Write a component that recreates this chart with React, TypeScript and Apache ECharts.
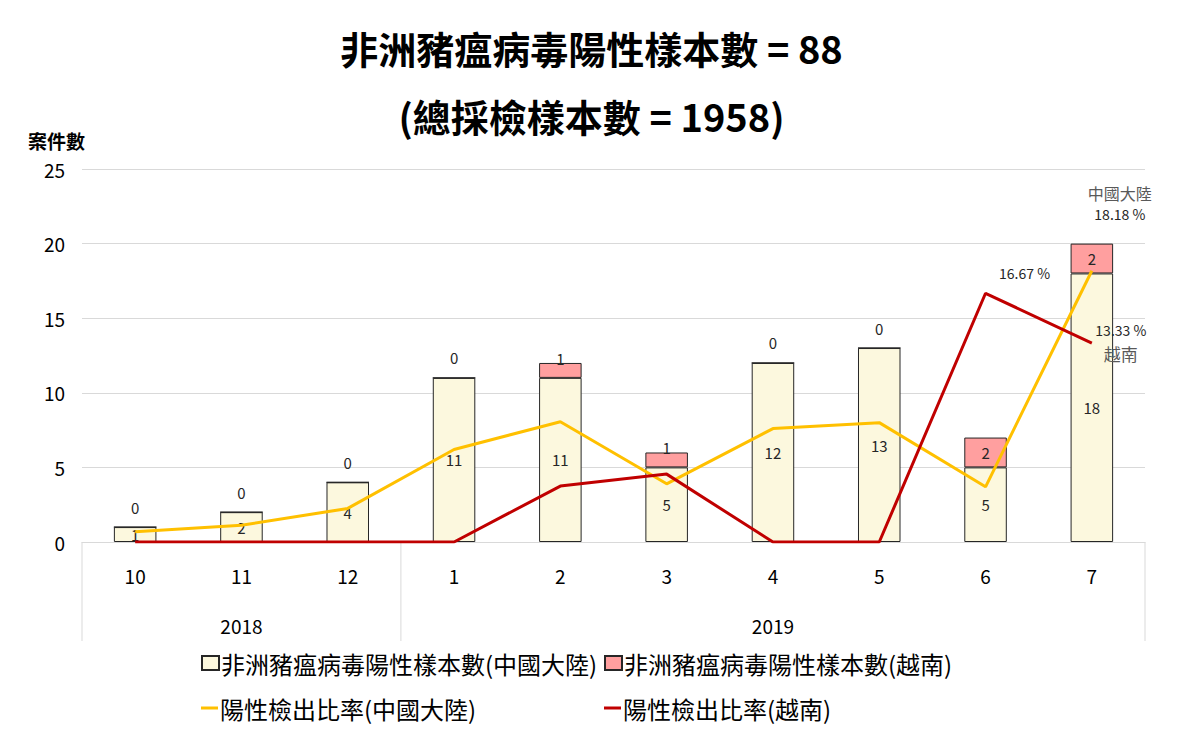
import React, { useEffect, useRef } from "react";
import * as echarts from "echarts";

const months = ["10", "11", "12", "1", "2", "3", "4", "5", "6", "7"];
const years = ["", "2018", "", "", "", "", "2019", "", "", ""];
const chinaCases = [1, 2, 4, 11, 11, 5, 12, 13, 5, 18];
const vietnamCases = [0, 0, 0, 0, 1, 1, 0, 0, 2, 2];
const chinaRatio = [0.68, 1.12, 2.25, 6.2, 8.06, 3.9, 7.6, 8.0, 3.7, 18.18];
const vietnamRatio = [0, 0, 0, 0, 3.75, 4.55, 0, 0, 16.67, 13.33];

const nameChinaBar = "非洲豬瘟病毒陽性樣本數(中國大陸)";
const nameVietnamBar = "非洲豬瘟病毒陽性樣本數(越南)";
const nameChinaLine = "陽性檢出比率(中國大陸)";
const nameVietnamLine = "陽性檢出比率(越南)";

const FONT = "'Noto Sans CJK TC', 'Noto Sans', sans-serif";

const App: React.FC = () => {
  const chartRef = useRef<HTMLDivElement>(null);

  useEffect(() => {
    document.body.style.margin = "0";
    if (!chartRef.current) return;
    const chart = echarts.init(chartRef.current, undefined, { renderer: "svg" });

    const last = months.length - 1;

    const legendBase = {
      orient: "horizontal",
      itemGap: 0,
      textStyle: { fontFamily: FONT, fontSize: 24, color: "#000", padding: [0, 0, 0, -3] },
    };

    const option: any = {
      animation: false,
      textStyle: { fontFamily: FONT },
      title: {
        text: "非洲豬瘟病毒陽性樣本數 = 88\n(總採檢樣本數 = 1958)",
        left: "center",
        top: 13,
        padding: 0,
        textStyle: {
          fontFamily: FONT,
          fontSize: 38,
          fontWeight: "bold",
          color: "#000",
          lineHeight: 68,
        },
      },
      legend: [
        {
          ...legendBase,
          left: 196,
          top: 646,
          itemWidth: 17,
          itemHeight: 14,
          data: [{ name: nameChinaBar, icon: "rect" }],
        },
        {
          ...legendBase,
          left: 599,
          top: 646,
          itemWidth: 17,
          itemHeight: 14,
          data: [{ name: nameVietnamBar, icon: "rect" }],
        },
        {
          ...legendBase,
          left: 196,
          top: 691,
          itemWidth: 17,
          itemHeight: 3,
          data: [{ name: nameChinaLine, icon: "rect" }],
        },
        {
          ...legendBase,
          left: 599,
          top: 691,
          itemWidth: 17,
          itemHeight: 3,
          data: [{ name: nameVietnamLine, icon: "rect" }],
        },
      ],
      grid: { left: 82, right: 38, top: 169, bottom: 196 },
      xAxis: [
        {
          type: "category",
          data: months,
          axisLine: { lineStyle: { color: "#d9d9d9", width: 1 } },
          axisTick: { show: false },
          axisLabel: { color: "#000", fontSize: 19, margin: 24, fontFamily: FONT },
        },
        {
          type: "category",
          data: years,
          position: "bottom",
          offset: 50,
          axisLine: { show: false },
          axisTick: { show: false },
          axisLabel: { color: "#000", fontSize: 19, margin: 24, interval: 0, fontFamily: FONT },
        },
      ],
      yAxis: {
        type: "value",
        min: 0,
        max: 25,
        interval: 5,
        name: "案件數",
        nameLocation: "end",
        nameGap: 19,
        nameTextStyle: {
          fontFamily: FONT,
          fontSize: 19,
          fontWeight: "bold",
          color: "#000",
          align: "right",
          padding: [0, -3, 0, 0],
        },
        axisLine: { show: false },
        axisTick: { show: false },
        axisLabel: { color: "#000", fontSize: 19, margin: 17, fontFamily: FONT },
        splitLine: { lineStyle: { color: "#d9d9d9", width: 1 } },
      },
      series: [
        {
          name: nameChinaBar,
          type: "bar",
          stack: "cases",
          barWidth: "40%",
          data: chinaCases,
          itemStyle: { color: "#fcf8de", borderColor: "#262626", borderWidth: 1 },
          label: {
            show: true,
            position: "inside",
            color: "#262626",
            fontSize: 15,
            fontFamily: FONT,
          },
          z: 2,
        },
        {
          name: nameVietnamBar,
          type: "bar",
          stack: "cases",
          barWidth: "40%",
          data: vietnamCases.map((v) => ({
            value: v,
            label:
              v === 0
                ? { position: "top", distance: 12 }
                : v === 1
                ? { position: "top", distance: -3 }
                : { position: "inside" },
          })),
          itemStyle: { color: "#ff9f9f", borderColor: "#262626", borderWidth: 1 },
          label: {
            show: true,
            color: "#262626",
            fontSize: 15,
            fontFamily: FONT,
          },
          z: 2,
        },
        {
          name: nameChinaLine,
          type: "line",
          symbol: "none",
          data: chinaRatio.map((v, i) =>
            i === last
              ? {
                  value: v,
                  symbol: "circle",
                  symbolSize: 0,
                  label: {
                    show: true,
                    position: "top",
                    offset: [28, -41],
                    align: "center",
                    formatter: "{a|中國大陸}\n{b|" + v.toFixed(2) + " %}",
                    rich: {
                      a: { fontSize: 16, color: "#595959", fontFamily: FONT, lineHeight: 21, align: "center" },
                      b: { fontSize: 14, color: "#262626", fontFamily: FONT, lineHeight: 21, align: "center" },
                    },
                  },
                }
              : v
          ),
          lineStyle: { color: "#ffc000", width: 3 },
          itemStyle: { color: "#ffc000" },
          z: 4,
        },
        {
          name: nameVietnamLine,
          type: "line",
          symbol: "none",
          data: vietnamRatio.map((v, i) =>
            i === last - 1
              ? {
                  value: v,
                  symbol: "circle",
                  symbolSize: 0,
                  label: {
                    show: true,
                    position: "top",
                    offset: [39, -8],
                    formatter: v.toFixed(2) + " %",
                    fontSize: 14,
                    color: "#262626",
                    fontFamily: FONT,
                  },
                }
              : i === last
              ? {
                  value: v,
                  symbol: "circle",
                  symbolSize: 0,
                  label: {
                    show: true,
                    position: "right",
                    distance: 0,
                    align: "center",
                    offset: [29, 0],
                    formatter: "{b|" + v.toFixed(2) + " %}\n{a|越南}",
                    rich: {
                      a: { fontSize: 17, color: "#595959", fontFamily: FONT, lineHeight: 26, align: "center" },
                      b: { fontSize: 14, color: "#262626", fontFamily: FONT, lineHeight: 20, align: "center" },
                    },
                  },
                }
              : v
          ),
          lineStyle: { color: "#c00000", width: 3 },
          itemStyle: { color: "#c00000" },
          z: 5,
        },
      ],
    };

    chart.setOption(option);

    // separators between the month/year category groups, below the plot
    const c0 = chart.convertToPixel({ xAxisIndex: 0 }, months[0]) as number;
    const c1 = chart.convertToPixel({ xAxisIndex: 0 }, months[1]) as number;
    const c2 = chart.convertToPixel({ xAxisIndex: 0 }, months[2]) as number;
    const c3 = chart.convertToPixel({ xAxisIndex: 0 }, months[3]) as number;
    const cl = chart.convertToPixel({ xAxisIndex: 0 }, months[last]) as number;
    const band = c1 - c0;
    const y0 = chart.convertToPixel({ yAxisIndex: 0 }, 0) as number;
    const sepX = [c0 - band / 2, (c2 + c3) / 2, cl + band / 2];
    chart.setOption({
      graphic: sepX.map((x) => ({
        type: "line",
        shape: { x1: x, y1: y0, x2: x, y2: y0 + 99 },
        style: { stroke: "#d9d9d9", lineWidth: 1 },
        silent: true,
      })),
    });

    return () => {
      chart.dispose();
    };
  }, []);

  return <div ref={chartRef} style={{ width: 1183, height: 738 }} />;
};

export default App;
